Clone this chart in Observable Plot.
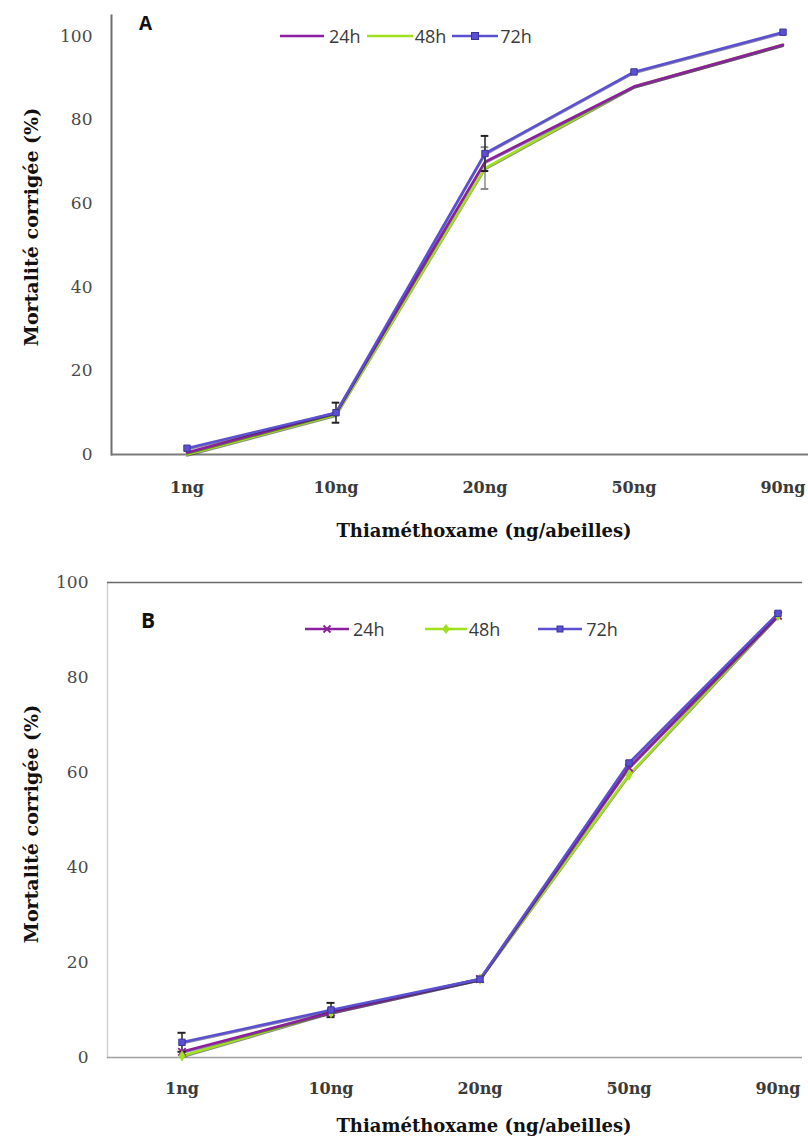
<!DOCTYPE html>
<html>
<head>
<meta charset="utf-8">
<script src="https://cdn.jsdelivr.net/npm/d3@7"></script>
<script src="https://cdn.jsdelivr.net/npm/@observablehq/plot@0.6"></script>
<style>
  html, body { margin: 0; padding: 0; background: #fff; overflow: hidden; }
  .panel { position: relative; width: 808px; }
  .panel svg.plot { display: block; }
  .letter { position: absolute; font: bold 19px "Open Sans", "Liberation Sans", sans-serif; color: #111; }
  .legend { position: absolute; display: flex; align-items: center; font: 18px "Open Sans", "Liberation Sans", sans-serif; color: #3a3a3a; }
  .legend .item { display: flex; align-items: center; }
  .legend svg { display: block; }
</style>
</head>
<body>
<div id="panelA" class="panel"></div>
<div id="panelB" class="panel"></div>
<script>
// ---------- data ----------
const doses = ["1ng", "10ng", "20ng", "50ng", "90ng"];
const series = ["24h", "48h", "72h"];
const yTicksA = [0, 20, 40, 60, 80, 100];
const yTicksB = [0, 20, 40, 60, 80, 100];

// Panel A
const A_24h = [0.5, 10, 70, 88, 98];
const A_48h = [0, 9.5, 68.5, 88, 98];
const A_72h = [1.5, 10, 72, 91.5, 101];
const A_err72h = [0, 2.4, 4.2, 0, 0];
const A_err48h = [0, 0, 5, 0, 0];

// Panel B
const B_24h = [1.2, 9.5, 16.5, 61, 93];
const B_48h = [0.3, 9.5, 16.5, 59.5, 93];
const B_72h = [3.2, 10, 16.5, 62, 93.5];
const B_err72h = [2, 1.5, 0, 0, 0];

const xTitle = "Thiaméthoxame (ng/abeilles)";
const yTitle = "Mortalité corrigée (%)";

const colors = {"24h": "#8c1f9e", "48h": "#9fe21c", "72h": "#5b50d2"};

function toRows(vals, s) { return doses.map((d, i) => ({dose: d, serie: s, v: vals[i]})); }
function toErr(vals, errs, s) {
  return doses.map((d, i) => ({dose: d, serie: s, lo: vals[i] - errs[i], hi: vals[i] + errs[i], e: errs[i]})).filter(r => r.e > 0);
}

const serifFont = "DejaVu Serif, Liberation Serif, serif";

function lineMarks(rows, s) {
  return [
    Plot.line(rows, {x: "dose", y: "v", stroke: "#2b2440", strokeOpacity: 0.55, strokeWidth: 2.2, dy: 1.2}),
    Plot.line(rows, {x: "dose", y: "v", stroke: colors[s], strokeWidth: 2.6})
  ];
}

function errMarks(errRows, bw, color) {
  return [
    Plot.ruleX(errRows, {x: "dose", y1: "lo", y2: "hi", stroke: color, strokeWidth: 1.5}),
    Plot.tickY(errRows, {x: "dose", y: "hi", insetLeft: bw / 2 - 4, insetRight: bw / 2 - 4, stroke: color, strokeWidth: 2}),
    Plot.tickY(errRows, {x: "dose", y: "lo", insetLeft: bw / 2 - 4, insetRight: bw / 2 - 4, stroke: color, strokeWidth: 2})
  ];
}

function axes(yTicks, xPad) {
  return [
    Plot.axisY({ticks: yTicks, tickSize: 0, tickPadding: 19, fontSize: 17, fontFamily: serifFont, fill: "#4a4a4a", label: null}),
    Plot.axisX({tickSize: 0, tickPadding: xPad, fontSize: 16, fontWeight: "bold", fontFamily: serifFont, fill: "#3a3a3a", label: null})
  ];
}

function titles(yDx, yDy, xDx, xDy) {
  return [
    Plot.text([yTitle], {text: d => d, frameAnchor: "left", textAnchor: "middle", rotate: -90, dx: yDx, dy: yDy, fontSize: 19, fontWeight: "bold", fontFamily: serifFont, fill: "#111"}),
    Plot.text([xTitle], {text: d => d, frameAnchor: "bottom", textAnchor: "middle", dx: xDx, dy: xDy, fontSize: 18, fontWeight: "bold", fontFamily: serifFont, fill: "#111"})
  ];
}

// ---------- Panel A ----------
{
  const left = 111, right = 858;
  const bw = (right - left) / doses.length;
  const r24 = toRows(A_24h, "24h"), r48 = toRows(A_48h, "48h"), r72 = toRows(A_72h, "72h");
  const chart = Plot.plot({
    width: 808, height: 560,
    marginLeft: 111, marginRight: 0, marginTop: 15, marginBottom: 106,
    style: {background: "#fff", overflow: "hidden"},
    x: {type: "band", domain: doses, range: [left, right], padding: 0},
    y: {domain: [0, 105], range: [454, 15]},
    marks: [
      Plot.frame({anchor: "left", stroke: "#6e6e6e", strokeWidth: 2}),
      Plot.ruleY([0], {stroke: "#7a7a7a", strokeWidth: 2}),
      ...axes(yTicksA, 27),
      ...lineMarks(r48, "48h"),
      ...lineMarks(r24, "24h"),
      ...lineMarks(r72, "72h"),
      ...errMarks(toErr(A_48h, A_err48h, "48h"), bw, "#8a8a8a"),
      ...errMarks(toErr(A_72h, A_err72h, "72h"), bw, "#222"),
      Plot.dot(r72, {x: "dose", y: "v", symbol: "square", r: 3.6, fill: colors["72h"], stroke: "#3d3499", strokeWidth: 1}),
      ...titles(-80, -8, 24, 82)
    ]
  });
  chart.classList.add("plot");
  const host = document.getElementById("panelA");
  host.appendChild(chart);
  const letter = document.createElement("div");
  letter.className = "letter"; letter.textContent = "A";
  letter.style.left = "139px"; letter.style.top = "10px";
  host.appendChild(letter);
  const leg = document.createElement("div");
  leg.className = "legend"; leg.style.left = "280px"; leg.style.top = "24px";
  const spec = [
    {s: "24h", w: 44, gap: 5, marker: null, after: 6},
    {s: "48h", w: 46, gap: 2, marker: null, after: 6},
    {s: "72h", w: 46, gap: 2, marker: "square", after: 0}
  ];
  spec.forEach(o => {
    const it = document.createElement("div"); it.className = "item";
    let m = "";
    if (o.marker === "square") m = `<rect x="${o.w/2-3.5}" y="3.5" width="7" height="7" fill="${colors[o.s]}" stroke="#3d3499"/>`;
    it.innerHTML = `<svg width="${o.w}" height="14"><line x1="0" x2="${o.w}" y1="7" y2="7" stroke="${colors[o.s]}" stroke-width="2.6"/>${m}</svg><span style="margin-left:${o.gap}px;margin-right:${o.after}px">${o.s}</span>`;
    leg.appendChild(it);
  });
  host.appendChild(leg);
}

// ---------- Panel B ----------
{
  const left = 107, right = 852;
  const bw = (right - left) / doses.length;
  const r24 = toRows(B_24h, "24h"), r48 = toRows(B_48h, "48h"), r72 = toRows(B_72h, "72h");
  const chart = Plot.plot({
    width: 808, height: 582,
    marginLeft: 107, marginRight: 6, marginTop: 22, marginBottom: 85,
    style: {background: "#fff", overflow: "hidden"},
    x: {type: "band", domain: doses, range: [left, right], padding: 0},
    y: {domain: [0, 100], range: [497, 22]},
    marks: [
      Plot.frame({anchor: "left", stroke: "#d0d0d0", strokeWidth: 1.5}),
      Plot.ruleY([100], {stroke: "#6a6a6a", strokeWidth: 1.5}),
      Plot.ruleY([0], {stroke: "#a0a0a0", strokeWidth: 1.5}),
      ...axes(yTicksB, 25),
      ...lineMarks(r48, "48h"),
      ...lineMarks(r24, "24h"),
      ...lineMarks(r72, "72h"),
      ...errMarks(toErr(B_72h, B_err72h, "72h"), bw, "#222"),
      Plot.dot(r24, {x: "dose", y: "v", symbol: "times", r: 3.5, stroke: colors["24h"], strokeWidth: 1.8}),
      Plot.dot(r48, {x: "dose", y: "v", symbol: "diamond", r: 3.5, fill: colors["48h"]}),
      Plot.dot(r72, {x: "dose", y: "v", symbol: "square", r: 3.6, fill: colors["72h"], stroke: "#3d3499", strokeWidth: 1}),
      ...titles(-76, 4, 29, 74)
    ]
  });
  chart.classList.add("plot");
  const host = document.getElementById("panelB");
  host.appendChild(chart);
  const letter = document.createElement("div");
  letter.className = "letter"; letter.textContent = "B";
  letter.style.left = "141px"; letter.style.top = "46px";
  letter.style.fontSize = "21px";
  host.appendChild(letter);
  const leg = document.createElement("div");
  leg.className = "legend"; leg.style.left = "305px"; leg.style.top = "57px";
  const spec = [
    {s: "24h", w: 44, gap: 4, marker: "times", after: 40},
    {s: "48h", w: 42, gap: 2, marker: "diamond", after: 38},
    {s: "72h", w: 44, gap: 4, marker: "square", after: 0}
  ];
  spec.forEach(o => {
    const it = document.createElement("div"); it.className = "item";
    const c = o.w / 2;
    let m = "";
    if (o.marker === "square") m = `<rect x="${c-3}" y="4" width="6" height="6" fill="${colors[o.s]}" stroke="#3d3499"/>`;
    if (o.marker === "diamond") m = `<path d="M${c},2 L${c+4},7 L${c},12 L${c-4},7Z" fill="${colors[o.s]}"/>`;
    if (o.marker === "times") m = `<path d="M${c-3.5},3.5 L${c+3.5},10.5 M${c+3.5},3.5 L${c-3.5},10.5" stroke="${colors[o.s]}" stroke-width="1.8"/>`;
    it.innerHTML = `<svg width="${o.w}" height="14"><line x1="0" x2="${o.w}" y1="7" y2="7" stroke="${colors[o.s]}" stroke-width="2.4"/>${m}</svg><span style="margin-left:${o.gap}px;margin-right:${o.after}px">${o.s}</span>`;
    leg.appendChild(it);
  });
  host.appendChild(leg);
}
</script>
</body>
</html>
